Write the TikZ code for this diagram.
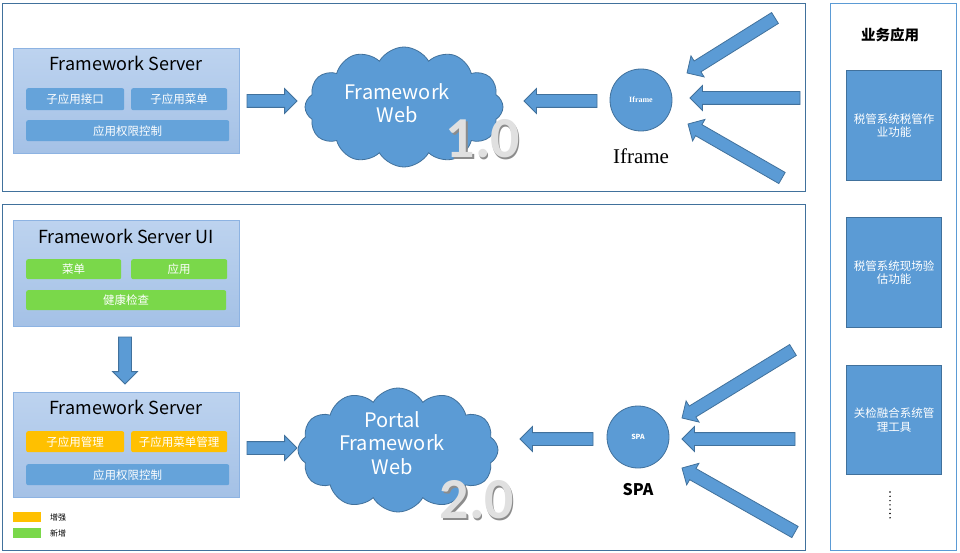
\documentclass[tikz,border=0pt]{standalone}
\usepackage{fontspec}
\setmainfont{Noto Sans CJK SC}
\newfontfamily\serifl{Liberation Serif}
\newfontfamily\numf{Carlito}
\usetikzlibrary{shapes.symbols,shapes.arrows,calc}
\definecolor{pborder}{HTML}{41719C}
\definecolor{rborder}{HTML}{5B9BD5}
\definecolor{bfill}{HTML}{5B9BD5}
\definecolor{subfill}{HTML}{65A3DA}
\definecolor{srvtop}{HTML}{BDD3EF}
\definecolor{srvbot}{HTML}{A4C1E6}
\definecolor{srvborder}{HTML}{8DB3E2}
\definecolor{gfill}{HTML}{7AD84A}
\definecolor{ofill}{HTML}{FFC000}
\newcommand\blockarrow[2]{%
  \path let \p1=($(#2)-(#1)$), \n1={atan2(\y1,\x1)}, \n2={veclen(\x1,\y1)} in
    node[barrow, rotate=\n1, minimum height=\n2, anchor=tail] at (#1) {};}
\tikzset{
  panel/.style={draw=pborder, line width=0.9pt},
  rpanel/.style={draw=rborder, line width=0.9pt},
  server/.style={draw=srvborder, top color=srvtop, bottom color=srvbot, line width=0.8pt, anchor=north west, inner sep=0pt},
  srvtitle/.style={font=\fontsize{18}{20}\selectfont, text=black},
  subbox/.style={rounded corners=2pt, fill=subfill, text=white, font=\fontsize{11.5}{13}\selectfont, inner sep=0pt, anchor=north west},
  greenbox/.style={subbox, fill=gfill},
  orangebox/.style={subbox, fill=ofill},
  barrow/.style={single arrow, draw=pborder, fill=bfill, line width=0.8pt, inner sep=6pt, single arrow head extend=6pt, single arrow tip angle=90, single arrow head indent=0pt, minimum width=24pt, outer sep=0pt},
  webcloud/.style={cloud, cloud puffs=12, cloud puff arc=120, aspect=1.6, fill=bfill, draw=pborder, line width=0.8pt, inner sep=0pt},
  cloudtxt/.style={text=white, align=center, font=\fontsize{20}{23.5}\selectfont},
  ver/.style={text=black!12, font=\numf\bfseries\fontsize{58}{60}\selectfont},
  vershadow/.style={text=black!45, font=\numf\bfseries\fontsize{58}{60}\selectfont},
  client/.style={circle, fill=bfill, draw=pborder, line width=0.8pt, minimum size=62pt, inner sep=0pt, text=white},
  bizbox/.style={fill=bfill, draw=pborder, line width=1.4pt, anchor=north west, minimum width=95pt, text=white, align=center, font=\fontsize{11.5}{13.5}\selectfont, inner sep=0pt},
  legend/.style={anchor=north west, minimum width=28pt, minimum height=9.5pt, inner sep=0pt},
  legtxt/.style={font=\fontsize{8}{9}\selectfont, text=black}
}
\begin{document}
\begin{tikzpicture}[x=1pt,y=-1pt]
\useasboundingbox (0,0) rectangle (960,553);
\fill[white] (0,0) rectangle (960,553);
% panels
\draw[panel] (2,3) rectangle (805,191);
\draw[panel] (2,204) rectangle (805,550);
\draw[rpanel] (830,3) rectangle (956,550);

% ---------- top: 1.0 ----------
\node[server, minimum width=226pt, minimum height=105pt] (fs1) at (13,48) {};
\node[srvtitle] (fs1t) at (126,63) {Framework Server};
\node[subbox, minimum width=98pt, minimum height=22pt] (s11) at (26,88) {子应用接口};
\node[subbox, minimum width=96pt, minimum height=22pt] (s12) at (131,88) {子应用菜单};
\node[subbox, minimum width=203pt, minimum height=21pt] (s13) at (26,120) {应用权限控制};

\node[webcloud, minimum width=198pt, minimum height=120pt] (c1) at (404,107) {};
\node[cloudtxt] (c1t) at (397,103) {Framework\\Web};
\node[vershadow] at (484.2,140.2) {1.0};
\node[ver] (v1) at (483,139) {1.0};

\node[client] (ifr) at (641,100) {\serifl\bfseries\fontsize{8}{9}\selectfont Iframe};
\node[font=\serifl\fontsize{21}{23}\selectfont] (ifrl) at (641,156) {Iframe};

\coordinate (a1s) at (247,101); \coordinate (a1e) at (297,101);
\coordinate (a2s) at (597,101); \coordinate (a2e) at (524,101);
\coordinate (i1s) at (775,18);  \coordinate (i1e) at (687,73);
\coordinate (i2s) at (800,98);  \coordinate (i2e) at (690,98);
\coordinate (i3s) at (782,178); \coordinate (i3e) at (688,124);
\blockarrow{a1s}{a1e}
\blockarrow{a2s}{a2e}
\blockarrow{i1s}{i1e}
\blockarrow{i2s}{i2e}
\blockarrow{i3s}{i3e}

% ---------- bottom: 2.0 ----------
\node[server, minimum width=226pt, minimum height=106pt] (ui) at (13,220) {};
\node[srvtitle] (uit) at (126,236) {Framework Server UI};
\node[greenbox, minimum width=95pt, minimum height=20pt] (g1) at (26,259) {菜单};
\node[greenbox, minimum width=96pt, minimum height=20pt] (g2) at (131,259) {应用};
\node[greenbox, minimum width=200pt, minimum height=20pt] (g3) at (26,290) {健康检查};

\node[server, minimum width=226pt, minimum height=105pt] (fs2) at (13,392) {};
\node[srvtitle] (fs2t) at (126,407) {Framework Server};
\node[orangebox, minimum width=98pt, minimum height=21pt] (o1) at (26,431) {子应用管理};
\node[orangebox, minimum width=96pt, minimum height=21pt] (o2) at (131,431) {子应用菜单管理};
\node[subbox, minimum width=203pt, minimum height=21pt] (s23) at (26,464) {应用权限控制};

\node[legend, fill=ofill] (lo) at (13,512) {};
\node[legtxt] (lot) at (58,517) {增强};
\node[legend, fill=gfill] (lg) at (13,528) {};
\node[legtxt] (lgt) at (58,533) {新增};

\node[webcloud, minimum width=200pt, minimum height=124pt] (c2) at (398,450) {};
\node[cloudtxt] (c2t) at (392,443) {Portal\\Framework\\Web};
\node[vershadow] at (478.2,501.2) {2.0};
\node[ver] (v2) at (477,500) {2.0};

\node[client] (spa) at (638,437) {\bfseries\fontsize{7}{8}\selectfont SPA};
\node[font=\bfseries\fontsize{16}{18}\selectfont] (spal) at (638,490) {SPA};

\coordinate (d1s) at (125,337); \coordinate (d1e) at (125,384);
\coordinate (b1s) at (247,448); \coordinate (b1e) at (297,448);
\coordinate (b2s) at (593,439); \coordinate (b2e) at (520,439);
\coordinate (j1s) at (793,350); \coordinate (j1e) at (682,418);
\coordinate (j2s) at (795,439); \coordinate (j2e) at (682,439);
\coordinate (j3s) at (795,532); \coordinate (j3e) at (682,468);
\blockarrow{d1s}{d1e}
\blockarrow{b1s}{b1e}
\blockarrow{b2s}{b2e}
\blockarrow{j1s}{j1e}
\blockarrow{j2s}{j2e}
\blockarrow{j3s}{j3e}

% ---------- right: business apps ----------
\node[font=\bfseries\fontsize{14.5}{16}\selectfont] (biz) at (890,35) {业务应用};
\node[bizbox, minimum height=110pt] (b1) at (846,70) {税管系统税管作\\业功能};
\node[bizbox, minimum height=110pt] (b2) at (846,217) {税管系统现场验\\估功能};
\node[bizbox, minimum height=109pt] (b3) at (846,365) {关检融合系统管\\理工具};
\foreach \k in {0,...,6} \fill[black] (890,492+\k*4.3) circle (0.8);
\end{tikzpicture}
\end{document}
